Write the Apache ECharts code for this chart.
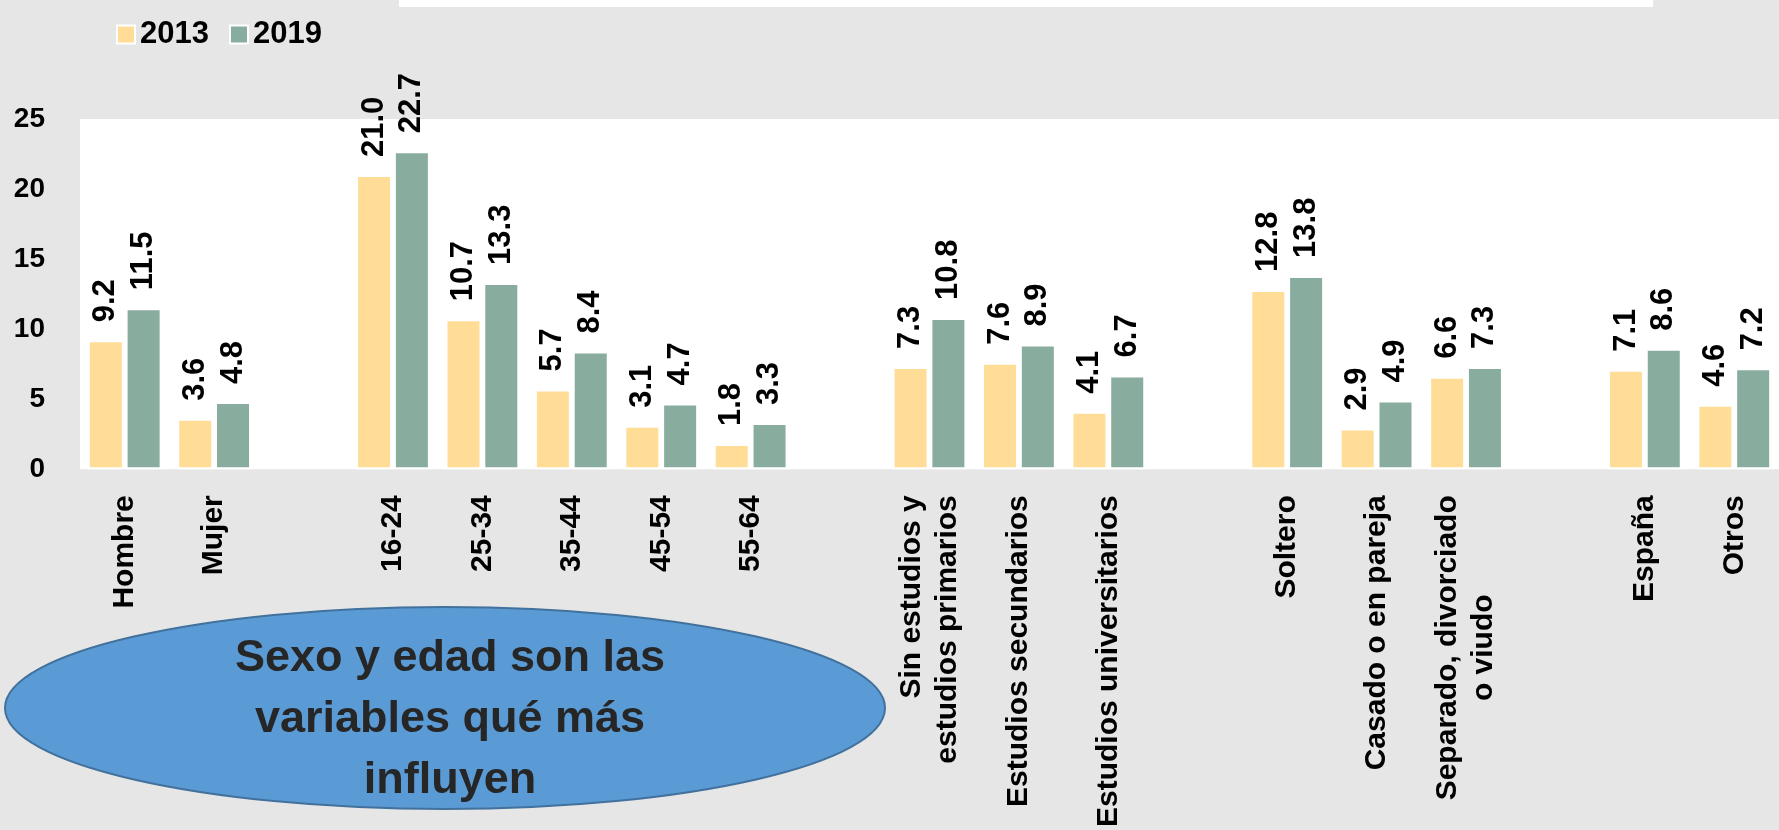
<!DOCTYPE html>
<html>
<head>
<meta charset="utf-8">
<script src="https://cdn.jsdelivr.net/npm/echarts@6/dist/echarts.min.js"></script>
<style>
  html, body { margin: 0; padding: 0; background: #e6e6e6; }
  #myChart { width: 1779px; height: 830px; }
</style>
</head>
<body>
<div id="myChart"></div>
<script>
// categorias (las vacias separan los grupos)
var categories = ['Hombre', 'Mujer', '',
  '16-24', '25-34', '35-44', '45-54', '55-64', ' ',
  'Sin estudios y\nestudios primarios', 'Estudios secundarios', 'Estudios universitarios', '  ',
  'Soltero', 'Casado o en pareja', 'Separado, divorciado\n{c|o viudo}', '   ',
  'España', 'Otros'];
var years = ['2013', '2019'];
var values2013 = [9.2, 3.6, '-', 21.0, 10.7, 5.7, 3.1, 1.8, '-', 7.3, 7.6, 4.1, '-', 12.8, 2.9, 6.6, '-', 7.1, 4.6];
var values2019 = [11.5, 4.8, '-', 22.7, 13.3, 8.4, 4.7, 3.3, '-', 10.8, 8.9, 6.7, '-', 13.8, 4.9, 7.3, '-', 8.6, 7.2];
var yTicks = [0, 5, 10, 15, 20, 25];

var colors = ['#FFDD97', '#88AC9D'];
var font = 'Liberation Sans';

var myChart = echarts.init(document.getElementById('myChart'));

function barLabel() {
  return {
    show: true,
    position: 'top',
    rotate: 90,
    align: 'left',
    verticalAlign: 'middle',
    distance: 18,
    color: '#000',
    fontFamily: font,
    fontWeight: 'bold',
    fontSize: 31,
    formatter: function (p) {
      return Number(p.value).toFixed(1);
    }
  };
}

var option = {
  backgroundColor: '#e6e6e6',
  color: colors,
  animation: false,
  legend: {
    left: 111,
    top: 14,
    icon: 'rect',
    itemWidth: 18,
    itemHeight: 18,
    itemGap: 20,
    itemStyle: { borderColor: '#fff', borderWidth: 2 },
    textStyle: { color: '#000', fontFamily: font, fontWeight: 'bold', fontSize: 31 },
    data: years
  },
  grid: {
    show: true,
    backgroundColor: '#fff',
    borderWidth: 0,
    left: 80,
    right: -4,
    top: 119,
    bottom: 360
  },
  xAxis: {
    type: 'category',
    data: categories,
    axisLine: { show: false },
    axisTick: { show: false },
    axisLabel: {
      interval: 0,
      rotate: 90,
      margin: 26,
      color: '#000',
      fontFamily: font,
      fontWeight: 'bold',
      fontSize: 30,
      lineHeight: 36,
      rich: {
        c: { align: 'center', color: '#000', fontFamily: font, fontWeight: 'bold', fontSize: 30, lineHeight: 36 }
      }
    }
  },
  yAxis: {
    type: 'value',
    min: yTicks[0],
    max: yTicks[yTicks.length - 1],
    interval: 5,
    splitLine: { show: false },
    axisLine: { show: false },
    axisTick: { show: false },
    axisLabel: {
      margin: 35,
      color: '#000',
      fontFamily: font,
      fontWeight: 'bold',
      fontSize: 28
    }
  },
  series: [
    {
      name: years[0],
      type: 'bar',
      barWidth: 36,
      barGap: '5%',
      itemStyle: { borderColor: '#fff', borderWidth: 2 },
      label: barLabel(),
      data: values2013
    },
    {
      name: years[1],
      type: 'bar',
      barWidth: 36,
      barGap: '5%',
      itemStyle: { borderColor: '#fff', borderWidth: 2 },
      label: barLabel(),
      data: values2019
    }
  ],
  graphic: [
    {
      type: 'rect',
      shape: { x: 399, y: 0, width: 1254, height: 7 },
      style: { fill: '#fff' }
    },
    {
      type: 'ellipse',
      z: 100,
      shape: { cx: 445, cy: 708, rx: 440, ry: 101 },
      style: { fill: '#5B9BD5', stroke: '#41719C', lineWidth: 2 }
    },
    {
      type: 'text',
      z: 101,
      x: 450,
      y: 720,
      style: {
        text: 'Sexo y edad son las\nvariables qué más\ninfluyen',
        fill: '#262626',
        font: 'bold 45px "Liberation Sans"',
        lineHeight: 61,
        align: 'center',
        verticalAlign: 'middle'
      }
    }
  ]
};
myChart.setOption(option);
</script>
</body>
</html>
